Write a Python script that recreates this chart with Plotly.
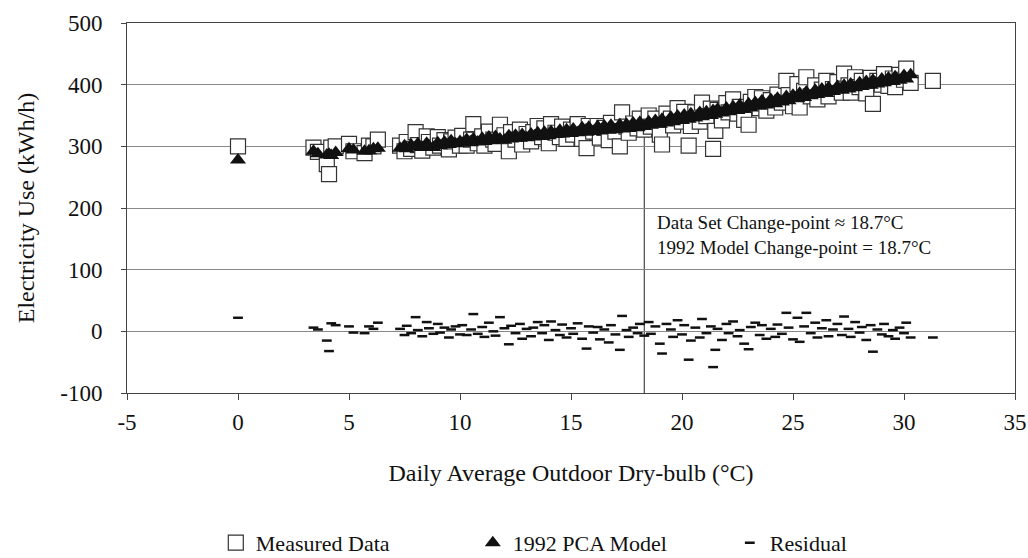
import plotly.graph_objects as go

# daily average outdoor dry-bulb temperature (C)
temp = [0.0, 3.4, 3.6, 4.0, 4.1, 4.2, 4.4, 5.0, 5.2, 5.7, 5.9, 6.1, 6.3,
        7.3, 7.5, 7.6, 7.8, 8.0, 8.1, 8.3, 8.5, 8.6, 8.8, 9.0, 9.1, 9.3, 9.5, 9.6, 9.8, 10.0,
        10.1, 10.3, 10.5, 10.6, 10.8, 11.0, 11.1, 11.3, 11.5, 11.6, 11.8, 12.0, 12.2, 12.3, 12.5, 12.7, 12.8, 13.0,
        13.2, 13.3, 13.5, 13.7, 13.8, 14.0, 14.1, 14.3, 14.5, 14.6, 14.8, 15.0, 15.1, 15.3, 15.5, 15.7, 15.8, 16.0,
        16.2, 16.3, 16.5, 16.7, 16.8, 17.0, 17.2, 17.3, 17.5, 17.6, 17.8, 18.0, 18.1, 18.3,
        18.5, 18.6, 18.8, 19.0, 19.1, 19.3, 19.5, 19.6, 19.8, 20.0, 20.1, 20.3, 20.4, 20.6, 20.8, 20.9, 21.1,
        21.3, 21.4, 21.5, 21.6, 21.8, 22.0, 22.1, 22.3, 22.5, 22.6, 22.8, 23.0, 23.1, 23.3, 23.5, 23.6, 23.8, 24.0,
        24.2, 24.3, 24.5, 24.7, 24.8, 25.0, 25.2, 25.3, 25.5, 25.6, 25.8, 26.0, 26.1, 26.3, 26.5, 26.6, 26.8, 27.0,
        27.2, 27.3, 27.5, 27.6, 27.8, 28.0, 28.1, 28.3, 28.5, 28.6, 28.8, 29.0, 29.1, 29.3, 29.5, 29.6, 29.8, 30.0, 30.1, 30.3,
        31.3]

# measured electricity use (kWh/h)
measured = [300, 298, 291, 271, 255, 298, 300, 304, 292, 289, 301, 300, 311,
            301, 292, 307, 296, 323, 302, 293, 316, 307, 298, 315, 301, 310, 295, 308, 314, 301,
            317, 301, 311, 336, 305, 316, 301, 324, 311, 304, 335, 318, 292, 323, 311, 327, 303, 320,
            308, 323, 333, 315, 329, 305, 336, 322, 315, 332, 312, 327, 319, 336, 312, 297, 333, 324,
            333, 314, 330, 310, 338, 324, 300, 355, 332, 322, 337, 329, 345, 327,
            350, 332, 345, 319, 303, 353, 345, 334, 362, 340, 356, 301, 333, 355, 340, 371, 349,
            361, 296, 325, 359, 342, 370, 355, 376, 353, 364, 343, 335, 372, 380, 362, 378, 358, 375,
            363, 384, 371, 406, 383, 365, 401, 363, 390, 412, 381, 399, 376, 392, 406, 381, 393, 404,
            387, 418, 399, 387, 412, 396, 406, 386, 411, 369, 406, 400, 417, 398, 410, 396, 416, 408, 426, 403,
            406]

# 1992 PCA model prediction (kWh/h)
model = [278, 292, 288, 286, 287, 285, 290, 296, 294, 292, 293, 296, 297,
         297, 301, 296, 302, 299, 304, 298, 305, 300, 298, 306, 301, 307, 303, 309, 304, 308,
         305, 311, 306, 312, 307, 313, 308, 315, 309, 316, 312, 310, 317, 312, 318, 313, 319, 314,
         320, 315, 322, 316, 323, 317, 324, 319, 326, 320, 327, 321, 328, 322, 330, 323, 331, 324,
         332, 325, 333, 326, 334, 327, 335, 328, 336, 329, 338, 330, 339, 332,
         340, 334, 342, 336, 344, 338, 347, 340, 349, 342, 351, 344, 353, 346, 355, 348, 356,
         350, 358, 352, 360, 354, 362, 356, 364, 358, 367, 360, 369, 362, 371, 365, 374, 367,
         376, 369, 378, 372, 381, 374, 383, 377, 386, 379, 388, 382, 391, 384, 393, 386, 395, 389,
         397, 391, 399, 393, 401, 395, 403, 397, 405, 399, 407, 401, 409, 403, 411, 405, 413, 407, 415, 409,
         416]

# residual (measured - model)
residual = [22, 6, 3, -15, -32, 13, 10, 8, -2, -3, 8, 4, 14,
            4, -6, 9, -3, 23, 2, -8, 15, 5, -4, 12, -2, 6, -10, 3, 8, -5,
            10, -6, 3, 28, -4, 7, -9, 14, 0, -7, 23, 5, -21, 9, -3, 12, -12, 4,
            -8, 6, 15, -3, 10, -14, 16, 2, -6, 11, -10, 5, -4, 13, -12, -28, 8, -2,
            7, -13, 3, -18, 10, -5, -30, 25, 2, -9, 6, -3, 12, -7,
            15, -4, 8, -20, -36, 12, 3, -9, 18, -5, 10, -46, -15, 6, -10, 20, -3,
            8, -58, -30, 4, -14, 12, -3, 16, -8, 2, -20, -29, 7, 14, -6, 10, -12, 4,
            -9, 11, -4, 30, 6, -13, 22, -17, 8, 30, -3, 14, -10, 5, 18, -8, 3, 12,
            -6, 24, 4, -9, 15, -2, 7, -14, 10, -33, 3, -5, 12, -8, 2, -12, 6, -3, 14, -10,
            -10]

change_point = 18.3
x_ticks = [-5, 0, 5, 10, 15, 20, 25, 30, 35]
y_ticks = [-100, 0, 100, 200, 300, 400, 500]

serif = "Liberation Serif"
ink = "#111111"

fig = go.Figure()

fig.add_trace(go.Scatter(x=temp, y=measured, mode="markers", name="Measured Data",
                         marker=dict(symbol="square", size=15, color="white",
                                     line=dict(color="#333333", width=1.2))))
fig.add_trace(go.Scatter(x=temp, y=model, mode="markers", name="1992 PCA Model",
                         marker=dict(symbol="triangle-up", size=14, color=ink,
                                     line=dict(width=0))))
fig.add_trace(go.Scatter(x=temp, y=residual, mode="markers", name="Residual",
                         marker=dict(symbol="line-ew", size=7,
                                     line=dict(color=ink, width=2.5))))

# change-point line
fig.add_shape(type="line", x0=change_point, x1=change_point, y0=-100, y1=325,
              line=dict(color="#222222", width=1), layer="below")

fig.add_annotation(x=18.8, y=157, xref="x", yref="y", xanchor="left", align="left",
                   showarrow=False,
                   text="Data Set Change-point ≈ 18.7°C<br>1992 Model Change-point = 18.7°C",
                   font=dict(family=serif, size=19, color=ink))

fig.update_xaxes(range=[-5, 35], tickvals=x_ticks, ticktext=[str(v) for v in x_ticks],
                 showgrid=False, zeroline=False, showline=True, linecolor="#444444",
                 mirror=True, ticks="outside", ticklen=6, tickcolor="#444444",
                 automargin=False, ticklabelstandoff=2,
                 tickfont=dict(family=serif, size=23, color=ink),
                 title=dict(text="Daily Average Outdoor Dry-bulb (°C)",
                            font=dict(family=serif, size=24, color=ink), standoff=30))
fig.update_yaxes(range=[-100, 500], tickvals=y_ticks, ticktext=[str(v) for v in y_ticks],
                 showgrid=True, gridcolor="#888888", gridwidth=1, zeroline=False,
                 showline=True, linecolor="#444444", mirror=True,
                 ticks="outside", ticklen=5, tickcolor="#444444",
                 automargin=False, ticklabelstandoff=14,
                 tickfont=dict(family=serif, size=23, color=ink),
                 title=dict(text="Electricity Use (kWh/h)",
                            font=dict(family=serif, size=24, color=ink), standoff=18))

fig.update_layout(width=1028, height=558, plot_bgcolor="white", paper_bgcolor="white",
                  margin=dict(l=127, r=13, t=23, b=165, autoexpand=False),
                  legend=dict(orientation="h", x=0.1, xanchor="left", y=-0.405, yanchor="middle",
                              font=dict(family=serif, size=22, color=ink),
                              itemwidth=30, entrywidth=212, tracegroupgap=0))

# drop the default body margin so the figure sits at the window's corner
fig.write_html("out.html", config={"displayModeBar": False},
               post_script="document.body.style.margin='0';")
